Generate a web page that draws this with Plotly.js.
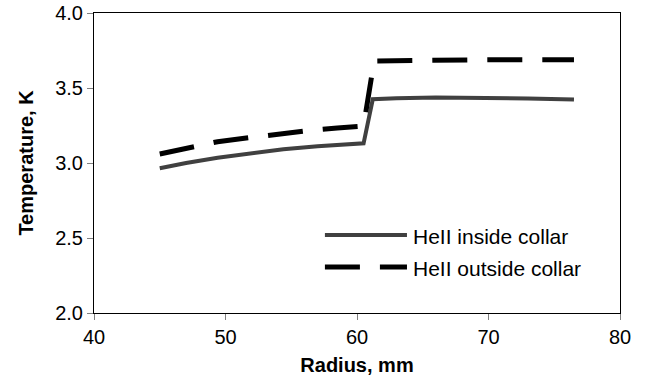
<!DOCTYPE html>
<html><head><meta charset="utf-8">
<script src="https://cdn.plot.ly/plotly-3.0.1.min.js"></script>
<style>html,body{margin:0;padding:0;background:#fff}</style>
</head><body><div id="chart" style="width:656px;height:390px"></div>
<script>
var insideR = [45, 47, 49.4, 52, 54.4, 57, 60.5, 61.2, 63, 66, 70, 73, 76.5];
var insideT = [2.965, 3.0, 3.035, 3.066, 3.091, 3.112, 3.131, 3.425, 3.432, 3.436, 3.435, 3.43, 3.423];
var outsideR = [45, 47.7, 49.4, 51.9, 54, 56.2, 58.5, 60.5, 61.3, 63, 66, 70, 73, 76.5];
var outsideT = [3.06, 3.113, 3.142, 3.17, 3.195, 3.215, 3.233, 3.247, 3.68, 3.683, 3.687, 3.689, 3.689, 3.688];
var seriesNames = ["HeII inside collar", "HeII outside collar"];
var xTicks = [40, 50, 60, 70, 80];
var yTicks = [2.0, 2.5, 3.0, 3.5, 4.0];

var font = {family: "Liberation Sans, Arial, sans-serif", size: 20, color: "#000"};
var legFont = {family: "Liberation Sans, Arial, sans-serif", size: 21, color: "#000"};
var traces = [
  {x: insideR, y: insideT, mode: "lines", name: seriesNames[0], line: {color: "#404040", width: 4}},
  {x: outsideR, y: outsideT, mode: "lines", name: seriesNames[1], line: {color: "#000", width: 5, dash: "35px,20px"}}
];
var layout = {
  width: 656, height: 390,
  margin: {l: 94, r: 36, t: 13, b: 77},
  paper_bgcolor: "#fff", plot_bgcolor: "#fff",
  showlegend: false,
  font: font,
  xaxis: {range: [40, 80], tickvals: xTicks, ticktext: xTicks.map(String),
    showgrid: false, zeroline: false, showline: true, linecolor: "#000", linewidth: 1, mirror: true,
    ticks: "outside", ticklen: 6, tickcolor: "#808080", tickfont: font,
    title: {text: "<b>Radius, mm</b>", font: font, standoff: 10}},
  yaxis: {range: [2.0, 4.0], tickvals: yTicks, ticktext: yTicks.map(function(v){return v.toFixed(1);}),
    showgrid: false, zeroline: false, showline: true, linecolor: "#000", linewidth: 1, mirror: true,
    ticks: "outside", ticklen: 6, tickcolor: "#808080", tickfont: font,
    title: {text: "<b>Temperature, K</b>", font: font, standoff: 16}},
  shapes: [
    {type: "line", xref: "paper", yref: "paper", x0: 0.439, x1: 0.595, y0: 0.26, y1: 0.26,
      line: {color: "#404040", width: 4}},
    {type: "line", xref: "paper", yref: "paper", x0: 0.439, x1: 0.595, y0: 0.153, y1: 0.153,
      line: {color: "#000", width: 5, dash: "35px,20px"}}
  ],
  annotations: [
    {xref: "paper", yref: "paper", x: 0.602, y: 0.255, xanchor: "left", yanchor: "middle",
      text: seriesNames[0], showarrow: false, font: legFont},
    {xref: "paper", yref: "paper", x: 0.602, y: 0.148, xanchor: "left", yanchor: "middle",
      text: seriesNames[1], showarrow: false, font: legFont}
  ]
};
Plotly.newPlot("chart", traces, layout, {staticPlot: true, displayModeBar: false});
</script></body></html>
